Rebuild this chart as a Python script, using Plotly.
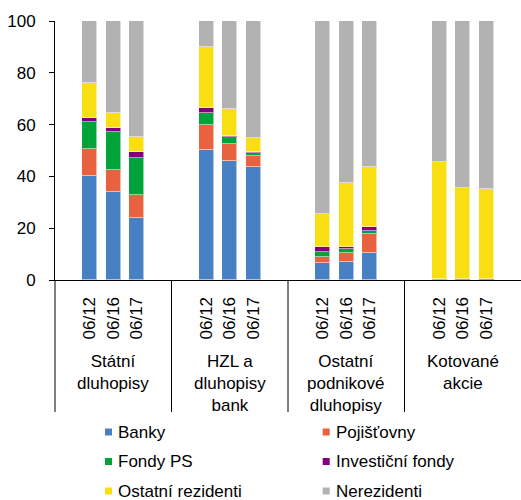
import plotly.graph_objects as go

groups = ["Státní<br>dluhopisy", "HZL a<br>dluhopisy<br>bank", "Ostatní<br>podnikové<br>dluhopisy", "Kotované<br>akcie"]
periods = ["06/12", "06/16", "06/17"]

series_names = ["Banky", "Pojišťovny", "Fondy PS", "Investiční fondy", "Ostatní rezidenti", "Nerezidenti"]
series_colors = ["#4880C4", "#E96240", "#00A33A", "#800080", "#F9DF12", "#B2B2B2"]

# values per series: 4 groups x 3 periods (flattened in group order)
banky = [40.3, 33.9, 24.1, 50.1, 46.0, 43.6, 6.4, 6.9, 10.4, 0.0, 0.0, 0.0]
pojistovny = [10.3, 8.7, 8.8, 9.7, 6.4, 4.2, 2.3, 3.5, 7.4, 0.0, 0.0, 0.0]
fondy_ps = [10.4, 14.4, 14.3, 4.6, 2.9, 1.1, 2.2, 1.7, 1.1, 0.5, 0.0, 0.0]
investicni = [1.6, 1.7, 2.2, 2.2, 0.4, 0.5, 1.7, 0.5, 1.6, 0.0, 0.5, 0.5]
ostatni_rez = [13.4, 5.7, 5.8, 23.3, 10.4, 5.3, 12.7, 24.9, 23.3, 45.0, 35.2, 34.7]
nerezidenti = [24.0, 35.6, 44.8, 10.1, 33.9, 45.3, 74.7, 62.5, 56.2, 54.5, 64.3, 64.8]
series_values = [banky, pojistovny, fondy_ps, investicni, ostatni_rez, nerezidenti]

yticks = [0, 20, 40, 60, 80, 100]

FONT = "Arial, Liberation Sans, sans-serif"
W, H = 521, 500
ML, MR, MT, MB = 55, 0, 21, 220
PW, PH = W - ML - MR, H - MT - MB

slots = 5  # slots per group: gap, 3 bars, gap
xpos = []
xlab = []
for g in range(len(groups)):
    for k, p in enumerate(periods):
        xpos.append(g * slots + k + 1.5)
        xlab.append(p)

fig = go.Figure()
for name, color, vals in zip(series_names, series_colors, series_values):
    fig.add_trace(go.Bar(
        x=xpos, y=vals, name=name, width=0.64,
        marker=dict(color=color, line=dict(color="rgba(255,255,255,0.55)", width=1)),
        showlegend=False,
    ))

xmax = len(groups) * slots


def px_to_paper_y(py):
    return (MT + PH - py) / PH


def px_to_paper_x(px):
    return (px - ML) / PW


shapes = []
for g in range(len(groups)):
    shapes.append(dict(type="line", xref="paper", yref="paper",
                       x0=g / len(groups), x1=g / len(groups),
                       y0=0, y1=px_to_paper_y(412),
                       line=dict(color="black", width=1)))

annotations = []
for g, label in enumerate(groups):
    annotations.append(dict(x=(g + 0.5) / len(groups), xref="paper",
                            y=px_to_paper_y(350), yref="paper",
                            text=label, showarrow=False, xanchor="center", yanchor="top",
                            font=dict(family=FONT, size=17, color="black")))

# manual legend (2 columns x 3 rows)
col_sq_x = [105, 322.7]
row_y0 = 432
row_dy = 29.5
for i, (name, color) in enumerate(zip(series_names, series_colors)):
    col, row = i % 2, i // 2
    cy = row_y0 + row * row_dy
    sx = col_sq_x[col]
    shapes.append(dict(type="rect", xref="paper", yref="paper",
                       x0=px_to_paper_x(sx), x1=px_to_paper_x(sx + 7),
                       y0=px_to_paper_y(cy + 3.5), y1=px_to_paper_y(cy - 3.5),
                       fillcolor=color, line=dict(width=0)))
    annotations.append(dict(x=px_to_paper_x(sx + 11), xref="paper",
                            y=px_to_paper_y(cy), yref="paper",
                            text=name, showarrow=False, xanchor="left", yanchor="middle",
                            font=dict(family=FONT, size=17, color="black")))

fig.update_layout(
    barmode="stack",
    width=W, height=H,
    margin=dict(l=ML, r=MR, t=MT, b=MB, autoexpand=False),
    paper_bgcolor="white", plot_bgcolor="white",
    font=dict(family=FONT, size=17, color="black"),
    xaxis=dict(range=[0, xmax], tickvals=xpos, ticktext=xlab, tickangle=-90,
               showgrid=False, zeroline=False, showline=True, linecolor="black", linewidth=1.3,
               ticks="", ticklabelstandoff=9, tickfont=dict(family=FONT, size=17, color="black")),
    yaxis=dict(range=[0, 100], tickvals=yticks, showgrid=False, zeroline=False,
               showline=True, linecolor="black", linewidth=1, ticks="outside", ticklen=5,
               tickcolor="black", ticklabelstandoff=10,
               tickfont=dict(family=FONT, size=17, color="black")),
    shapes=shapes,
    annotations=annotations,
    showlegend=False,
    bargap=0,
)

fig.write_html("out.html")
